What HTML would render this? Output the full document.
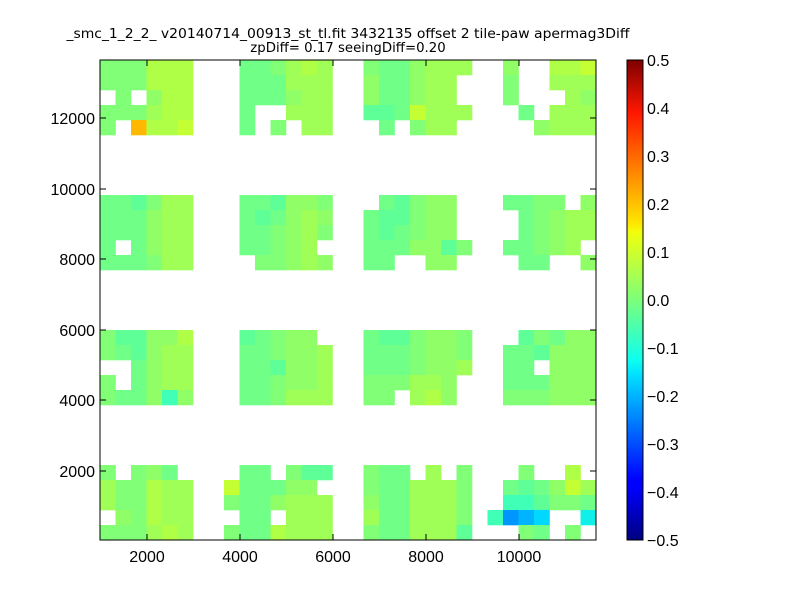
<!DOCTYPE html>
<html><head><meta charset="utf-8"><style>
body{margin:0;background:#fff;}
svg{display:block;font-family:"Liberation Sans",sans-serif;}
</style></head><body>
<svg id="s" width="800" height="600" xmlns="http://www.w3.org/2000/svg">
<defs><linearGradient id="jet" x1="0" y1="1" x2="0" y2="0">
<stop offset="0" stop-color="#00007f"/><stop offset="0.11" stop-color="#0000ff"/><stop offset="0.125" stop-color="#0000ff"/>
<stop offset="0.34" stop-color="#00dcff"/><stop offset="0.375" stop-color="#0dfff0"/><stop offset="0.5" stop-color="#7dff7a"/>
<stop offset="0.64" stop-color="#f0ff0d"/><stop offset="0.66" stop-color="#ffe600"/><stop offset="0.89" stop-color="#ff1700"/>
<stop offset="1" stop-color="#7f0000"/></linearGradient></defs>
<rect width="800" height="600" fill="#fff"/>
<g id="cells"></g>
<rect x="100" y="60" width="496" height="480" fill="none" stroke="#000" stroke-width="1"/>
<g stroke="#000" stroke-width="1" id="ticks"></g>
<g font-size="16" fill="#000" text-anchor="middle">
<text x="147" y="562">2000</text><text x="240" y="562">4000</text><text x="333" y="562">6000</text><text x="426" y="562">8000</text><text x="519" y="562">10000</text>
</g>
<g font-size="16" fill="#000" text-anchor="end">
<text x="95" y="124">12000</text><text x="95" y="195">10000</text><text x="95" y="265">8000</text><text x="95" y="336">6000</text><text x="95" y="406">4000</text><text x="95" y="477">2000</text>
</g>
<g font-size="13.3" fill="#000" text-anchor="middle" style="font-family:'DejaVu Sans',sans-serif">
<text x="348" y="38" textLength="563" lengthAdjust="spacingAndGlyphs">_smc_1_2_2_ v20140714_00913_st_tl.fit 3432135 offset 2 tile-paw apermag3Diff</text>
<text x="348" y="52">zpDiff= 0.17 seeingDiff=0.20</text>
</g>
<rect x="627" y="60" width="16" height="480" fill="url(#jet)" stroke="#000" stroke-width="1"/>
<g font-size="16" fill="#000" id="cb"></g>
</svg>
<script>
var C={a:"#5fff97",b:"#70ff87",c:"#80ff77",d:"#90ff67",e:"#a0ff57",f:"#b0ff47",g:"#c4ff33",t:"#40ffb7",o:"#ffb800",B:"#0096ff",C:"#00b4ff",D:"#00d8ff",E:"#10f0e8"};
var blocks=[
[0,0,["cccfff","cccfff",".c.dff","ccceff","c.offg"]],
[0,9,["bbcefe","bbbeee","bbbdee","b..eee","b.c.ee"]],
[0,17,["cbbdeee","dbbdee.","dbbdee.","aabgeee",".b.cee."]],
[0,26,["d..ffg","c..eee","c...ed",".b.eee","..deee"]],
[9,0,["bbacee","bbbdee","bbbdee","b.bdee","bbbcee"]],
[9,9,["bbaddc","babded","bbcdec","bbcde.",".ccded"]],
[9,17,[".bacdd.","baacdd.","babcdd.","bbbddac","bb..dd."]],
[9,26,["bbcc.d",".bcdee",".bcdee","bbcde.",".bb..d"]],
[18,0,["caaddf","cbadee","..bdee","c.bdee","cbbdtd"]],
[18,9,["abcdd.","bbcdde","bbadde","bbcdde","bbceee"]],
[18,17,["baacddc","bbbcddc","bbbcdde","ccceed.","cc.efd."]],
[18,26,[".acbdd","bbaddd","bb.ddd","bbbddd","cccddd"]],
[27,0,["c.cdb.","eccfee","eccfee",".dcfee","cccefe"]],
[27,8,[".bb.caa","gbbbdd.","cbbdeee",".bb.eee","cbbfeee"]],
[27,17,["cbb.e.c","cbbeeec","dbbeeec","ebbeeec","cbbeeea"]],
[27,25,["..c..f.",".babdge",".ttaccb","tBCD..E","..cb.c."]]];
var s="",W=15.5,H=15;
blocks.forEach(function(b){b[2].forEach(function(r,i){for(var j=0;j<r.length;j++){var k=r[j];if(k==".")continue;
s+='<rect x="'+(100+(b[1]+j)*W).toFixed(2)+'" y="'+(60+(b[0]+i)*H)+'" width="'+(W+0.3)+'" height="'+(H+0.3)+'" fill="'+C[k]+'"/>';}});});
document.getElementById("cells").innerHTML=s;
var t="";[147,240,333,426,519].forEach(function(x){t+='<line x1="'+x+'" y1="540" x2="'+x+'" y2="534"/><line x1="'+x+'" y1="60" x2="'+x+'" y2="66"/>';});
[118,189,259,330,400,471].forEach(function(y){t+='<line x1="100" y1="'+y+'" x2="106" y2="'+y+'"/><line x1="596" y1="'+y+'" x2="590" y2="'+y+'"/>';});
for(var i=0;i<=10;i++){var y=60+i*48;t+='<line x1="627" y1="'+y+'" x2="631" y2="'+y+'"/><line x1="643" y1="'+y+'" x2="639" y2="'+y+'"/>';}
document.getElementById("ticks").innerHTML=t;
var c="";for(var i=0;i<=10;i++){var v=(0.5-i*0.1);var l=(v<-0.001?"\u2212":"")+Math.abs(v).toFixed(1);c+='<text x="647" y="'+(66+i*48)+'">'+l+'</text>';}
document.getElementById("cb").innerHTML=c;
</script>
</body></html>
